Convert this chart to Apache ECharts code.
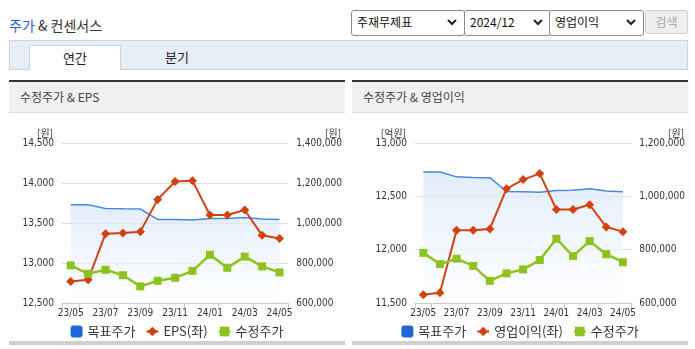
<!DOCTYPE html>
<html><head><meta charset="utf-8">
<script src="https://cdn.jsdelivr.net/npm/echarts@6/dist/echarts.min.js"></script>
<style>
html,body{margin:0;padding:0;background:#fff;width:695px;height:349px;overflow:hidden;font-family:"Noto Sans CJK KR","Noto Sans",sans-serif;color:#333}
.abs{position:absolute;box-sizing:border-box}
.sel{position:absolute;top:10px;height:24px;border:1px solid #8a8a8a;border-radius:3px;background:#fff;font-size:12px;line-height:21px;padding-left:5px;color:#111}
.sel svg{position:absolute;right:7px;top:8px}
.panelTop{position:absolute;top:80px;height:2px;background:#333}
.panelHead{position:absolute;top:82px;height:31px;background:#f0f0f0;border-bottom:1px solid #dcdcdc;font-size:12px;line-height:30px;padding-left:11px;color:#444;box-sizing:border-box}
.panelBot{position:absolute;top:341px;height:4px;background:#cfcfcf}
</style></head><body>
<div class="abs" style="left:9px;top:15px;font-size:14px;line-height:20px;"><span style="color:#1f5fc8">주가</span> &amp; 컨센서스</div>
<div class="sel" style="left:351px;width:107px;">주재무제표<svg width="10" height="7"><polyline points="1,1 5,5 9,1" fill="none" stroke="#222" stroke-width="2"/></svg></div>
<div class="sel" style="left:464px;width:80px;">2024/12<svg width="10" height="7"><polyline points="1,1 5,5 9,1" fill="none" stroke="#222" stroke-width="2"/></svg></div>
<div class="sel" style="left:549px;width:88px;">영업이익<svg width="10" height="7"><polyline points="1,1 5,5 9,1" fill="none" stroke="#222" stroke-width="2"/></svg></div>
<div class="abs" style="left:645px;top:10px;width:43px;height:24px;border:1px solid #d0d0d0;border-radius:3px;background:#efefef;color:#a8a8a8;font-size:12px;line-height:21px;text-align:center;">검색</div>
<div class="abs" style="left:9px;top:40px;width:679px;height:30px;background:#e8eef8;border:1px solid #c9d4e4;"></div>
<div class="abs" style="left:29px;top:45px;width:92px;height:25px;background:#fff;border:1px solid #c9d4e4;border-bottom:none;font-size:13px;line-height:23px;text-align:center;color:#222">연간</div>
<div class="abs" style="left:131px;top:45px;width:92px;height:24px;font-size:13px;line-height:23px;text-align:center;color:#222">분기</div>

<div class="panelTop" style="left:9px;width:336px"></div>
<div class="panelHead" style="left:9px;width:336px">수정주가 &amp; EPS</div>
<div class="panelTop" style="left:352px;width:336px"></div>
<div class="panelHead" style="left:352px;width:336px">수정주가 &amp; 영업이익</div>
<div id="c1" class="abs" style="left:9px;top:113px;width:336px;height:229px"></div>
<div id="c2" class="abs" style="left:352px;top:113px;width:336px;height:229px"></div>
<div class="panelBot" style="left:9px;width:336px"></div>
<div class="panelBot" style="left:352px;width:336px"></div>
<script>
const months = ['23/05','23/06','23/07','23/08','23/09','23/10','23/11','23/12','24/01','24/02','24/03','24/04','24/05'];
const targetPrice = [1091000,1091000,1073000,1071000,1070000,1018000,1017000,1015000,1022000,1023000,1028000,1020000,1017000];
const adjPrice = [788000,746000,766000,739000,683000,711000,726000,761000,841000,776000,832000,783000,753000];
const eps = [12770,12790,13367,13375,13392,13795,14019,14027,13600,13600,13662,13346,13305];
const opProfit = [11578,11596,12181,12181,12194,12570,12657,12713,12377,12377,12421,12212,12169];
const epsAxisTicks = [12500,13000,13500,14000,14500];
const opAxisTicks = [11500,12000,12500,13000];
const priceAxisTicks1 = [600000,800000,1000000,1200000,1400000];
const priceAxisTicks2 = [600000,800000,1000000,1200000];

const NUMFONT = "'Liberation Sans Narrow','DejaVu Sans Condensed','Liberation Sans',sans-serif";
const CJK = "'Noto Sans CJK KR','Noto Sans',sans-serif";
const fmt = v => Number(v).toLocaleString('en-US');

function build(el, leftName, leftTicks, leftData, leftSeriesName, rightTicks, gridLeft) {
  const chart = echarts.init(document.getElementById(el), null, {renderer:'canvas'});
  const labelStyle = {color:'#333', fontFamily:NUMFONT, fontSize:10};
  chart.setOption({
    animation:false,
    grid:{left:gridLeft, right:53, top:30, bottom:39, containLabel:false},
    legend:{
      top:207, left:'center', itemWidth:12, itemHeight:12, itemGap:10,
      textStyle:{color:'#333', fontSize:13, fontFamily:CJK},
      selectedMode:false,
      data:[
        {name:'목표주가', icon:'roundRect', itemStyle:{color:'#1f66d9'}},
        {name:leftSeriesName},
        {name:'수정주가'}
      ]
    },
    xAxis:{
      type:'category', data:months, boundaryGap:true,
      axisLine:{lineStyle:{color:'#c3ccd9', width:1}},
      axisTick:{show:true, length:5, lineStyle:{color:'#c3ccd9'}, interval:(i)=> i===0 || i%2===1},
      axisLabel:Object.assign({interval:1, margin:5, fontSize:10}, {color:'#333', fontFamily:NUMFONT}),
      splitLine:{show:false}
    },
    yAxis:[
      {type:'value', min:leftTicks[0], max:leftTicks[leftTicks.length-1], interval:leftTicks[1]-leftTicks[0],
       name:leftName, nameLocation:'end', nameGap:3,
       nameTextStyle:{color:'#333', fontFamily:CJK, fontSize:10, align:'right', padding:[0,9,0,0]},
       axisLine:{show:false}, axisTick:{show:false},
       axisLabel:Object.assign({margin:8, formatter:fmt}, labelStyle),
       splitLine:{show:true, lineStyle:{color:'#dddddd'}}},
      {type:'value', min:rightTicks[0], max:rightTicks[rightTicks.length-1], interval:rightTicks[1]-rightTicks[0],
       name:'[원]', nameLocation:'end', nameGap:3,
       nameTextStyle:{color:'#333', fontFamily:CJK, fontSize:10, align:'left', padding:[0,0,0,37]},
       axisLine:{show:false}, axisTick:{show:false},
       axisLabel:Object.assign({margin:8, formatter:fmt}, labelStyle),
       splitLine:{show:false}}
    ],
    series:[
      {name:'목표주가', type:'line', yAxisIndex:1, data:targetPrice, symbol:'none', silent:true,
       lineStyle:{color:'#4b87e0', width:1.5}, itemStyle:{color:'#1f66d9'},
       areaStyle:{color:new echarts.graphic.LinearGradient(0,0,0,1,[{offset:0,color:'rgba(214,229,249,1)'},{offset:1,color:'rgba(255,255,255,0.9)'}])}},
      {name:leftSeriesName, type:'line', yAxisIndex:0, data:leftData, symbol:'diamond', symbolSize:9, silent:true,
       lineStyle:{color:'#d2410f', width:2}, itemStyle:{color:'#d2410f'}},
      {name:'수정주가', type:'line', yAxisIndex:1, data:adjPrice, symbol:'rect', symbolSize:8, silent:true,
       lineStyle:{color:'#8dc21f', width:2.5}, itemStyle:{color:'#8dc21f'}}
    ]
  });
}
build('c1','[원]',epsAxisTicks,eps,'EPS(좌)',priceAxisTicks1,53);
build('c2','[억원]',opAxisTicks,opProfit,'영업이익(좌)',priceAxisTicks2,63);
</script>
</body></html>
